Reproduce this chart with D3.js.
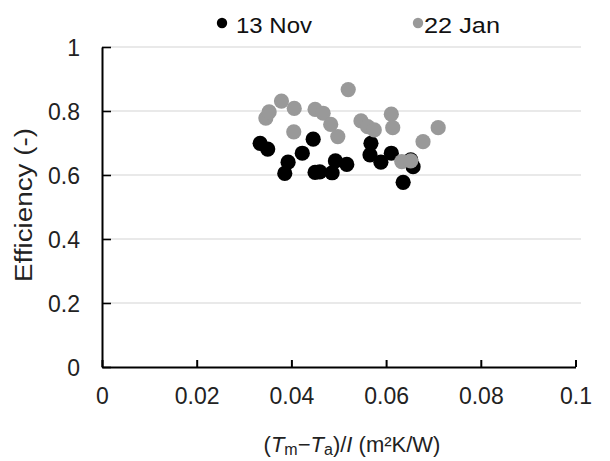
<!DOCTYPE html>
<html>
<head>
<meta charset="utf-8">
<script src="https://cdn.jsdelivr.net/npm/d3@7.9.0/dist/d3.min.js"></script>
<style>
  body { margin: 0; background: #fff; }
  svg { font-family: "Liberation Sans", Arial, Helvetica, sans-serif; }
</style>
</head>
<body>
<svg id="chart"></svg>
<script>
// Data
const novX = [0.0334, 0.0350, 0.0446, 0.0423, 0.0393, 0.0386, 0.0450, 0.0460, 0.0486,
              0.0493, 0.0517, 0.0568, 0.0566, 0.0589, 0.0611, 0.0657, 0.0636, 0.0652];
const novY = [0.699, 0.681, 0.712, 0.668, 0.640, 0.605, 0.608, 0.610, 0.607,
              0.644, 0.633, 0.699, 0.663, 0.640, 0.668, 0.626, 0.577, 0.647];

const janX = [0.0346, 0.0353, 0.0379, 0.0406, 0.0405, 0.0450, 0.0467, 0.0483, 0.0498, 0.0520,
              0.0547, 0.0561, 0.0575, 0.0611, 0.0614, 0.0678, 0.0710, 0.0633, 0.0652];
const janY = [0.778, 0.797, 0.831, 0.808, 0.735, 0.805, 0.793, 0.758, 0.720, 0.867,
              0.769, 0.751, 0.741, 0.790, 0.748, 0.704, 0.748, 0.642, 0.644];

const xTicks = [0, 0.02, 0.04, 0.06, 0.08, 0.1];
const yTicks = [0, 0.2, 0.4, 0.6, 0.8, 1];
const seriesNames = ["13 Nov", "22 Jan"];
const seriesColors = ["#000000", "#999999"];

const width = 610, height = 461;
const svg = d3.select("#chart").attr("width", width).attr("height", height);

const x = d3.scaleLinear().domain([0, 0.1]).range([102, 575.5]);
const y = d3.scaleLinear().domain([0, 1]).range([367, 47]);
const fmt = d3.format("~g");

// --- gridlines ---
svg.append("g")
  .selectAll("line")
  .data(yTicks.filter(d => d > 0))
  .join("line")
  .attr("x1", x(0)).attr("x2", 581)
  .attr("y1", d => y(d)).attr("y2", d => y(d))
  .attr("stroke", "#d4d4d4")
  .attr("stroke-width", 1.2);

// --- axes ---
const yAxis = svg.append("g")
  .attr("transform", `translate(${x(0)},0)`)
  .call(d3.axisLeft(y).tickValues(yTicks).tickFormat(fmt).tickSizeInner(-9).tickSizeOuter(0).tickPadding(22));
yAxis.select(".domain").attr("stroke-width", 2);
yAxis.selectAll(".tick line").attr("stroke-width", 1.6);
yAxis.selectAll(".tick text")
  .attr("font-size", 23).attr("fill", "#222").attr("dy", "0.36em");

const xAxis = svg.append("g")
  .attr("transform", `translate(0,${y(0)})`)
  .call(d3.axisBottom(x).tickValues(xTicks).tickFormat(fmt).tickSizeInner(-7).tickSizeOuter(0).tickPadding(21));
xAxis.select(".domain").attr("stroke-width", 2);
xAxis.selectAll(".tick line").attr("stroke-width", 2);
xAxis.selectAll(".tick text")
  .attr("font-size", 23).attr("fill", "#222");

// --- points ---
const series = [
  { xs: novX, ys: novY, color: seriesColors[0] },
  { xs: janX, ys: janY, color: seriesColors[1] }
];
series.forEach(s => {
  svg.append("g")
    .selectAll("circle")
    .data(s.xs.map((v, i) => [v, s.ys[i]]))
    .join("circle")
    .attr("cx", d => x(d[0]))
    .attr("cy", d => y(d[1]))
    .attr("r", 7.6)
    .attr("fill", s.color);
});

// --- legend ---
const legendX = [222, 418];
const legend = svg.append("g");
seriesNames.forEach((name, i) => {
  legend.append("circle")
    .attr("cx", legendX[i]).attr("cy", 23)
    .attr("r", 5.2)
    .attr("fill", seriesColors[i]);
  legend.append("text")
    .attr("x", legendX[i] + (i === 0 ? 14 : 6)).attr("y", 33)
    .attr("font-size", 22)
    .attr("fill", "#111")
    .attr("textLength", 76)
    .attr("lengthAdjust", "spacingAndGlyphs")
    .text(name);
});

// --- axis titles ---
svg.append("text")
  .attr("transform", "translate(32,205) rotate(-90)")
  .attr("text-anchor", "middle")
  .attr("font-size", 23)
  .attr("fill", "#222")
  .attr("textLength", 154)
  .attr("lengthAdjust", "spacingAndGlyphs")
  .text("Efficiency (-)");

const xt = svg.append("text")
  .attr("x", 352).attr("y", 452)
  .attr("text-anchor", "middle")
  .attr("font-size", 22)
  .attr("fill", "#222");
xt.append("tspan").text("(");
xt.append("tspan").attr("font-style", "italic").text("T");
xt.append("tspan").attr("font-size", 16).attr("dy", 3).text("m");
xt.append("tspan").attr("dy", -3).text("\u2212");
xt.append("tspan").attr("font-style", "italic").text("T");
xt.append("tspan").attr("font-size", 16).attr("dy", 3).text("a");
xt.append("tspan").attr("dy", -3).text(")/");
xt.append("tspan").attr("font-style", "italic").text("I");
xt.append("tspan").text(" (m\u00B2K/W)");
</script>
</body>
</html>
